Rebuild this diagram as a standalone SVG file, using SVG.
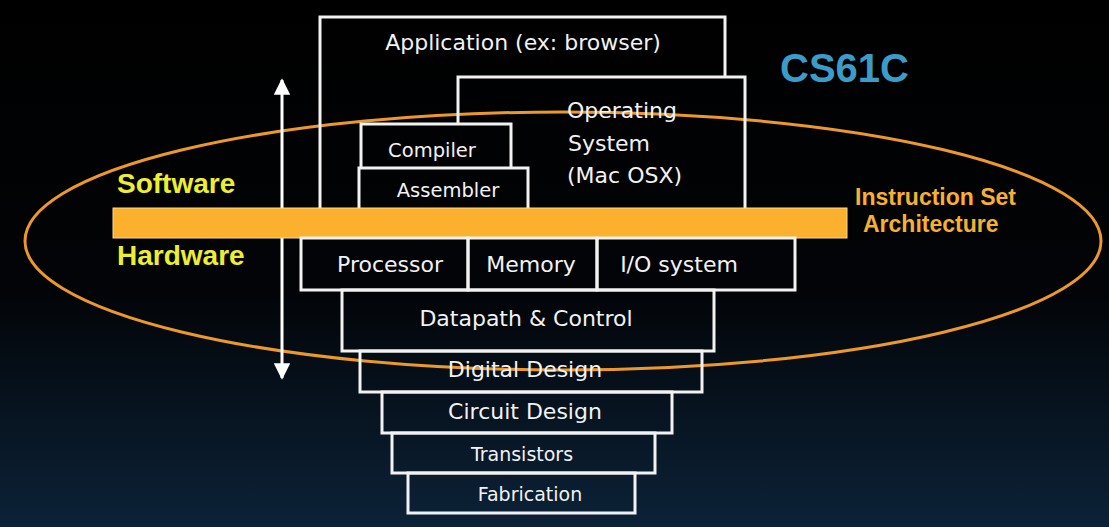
<svg xmlns="http://www.w3.org/2000/svg" width="1109" height="527" viewBox="0 0 1109 527">
  <defs>
    <linearGradient id="bg" x1="0" y1="0" x2="0" y2="1">
      <stop offset="0" stop-color="#000000"/>
      <stop offset="0.55" stop-color="#020407"/>
      <stop offset="1" stop-color="#0c2238"/>
    </linearGradient>
    <marker id="ah" viewBox="0 0 10 10" refX="9" refY="5" markerWidth="6" markerHeight="5.5" orient="auto-start-reverse" markerUnits="strokeWidth">
      <path d="M0,0 L10,5 L0,10 z" fill="#ffffff"/>
    </marker>
    <style>
      .box { fill: none; stroke: #f2f2f2; stroke-width: 3; }
      .t { font-family: "DejaVu Sans", "Liberation Sans", sans-serif; fill: #f2f2f2; font-size: 22px; }
      .mid { text-anchor: middle; }
      .sm { font-size: 19px; }
      .yl { font-family: "Liberation Sans", Arial, sans-serif; font-weight: bold; fill: #eeee30; font-size: 28px; }
      .isa { font-family: "Liberation Sans", Arial, sans-serif; font-weight: bold; fill: #f7b02f; font-size: 23px; }
    </style>
  </defs>
  <rect x="0" y="0" width="1109" height="527" fill="url(#bg)"/>

  <ellipse id="isa-ellipse" cx="563" cy="241" rx="538" ry="129" fill="none" stroke="#ec982a" stroke-width="3"/>

  <g id="connectors">
    <line x1="282" y1="80" x2="282" y2="378" stroke="#ffffff" stroke-width="3" marker-start="url(#ah)" marker-end="url(#ah)"/>
  </g>

  <g id="application">
    <path class="box" d="M320,210 V17 H725 V77"/>
    <text class="t mid" x="523" y="50">Application (ex: browser)</text>
  </g>
  <g id="os">
    <path class="box" d="M458,124 V77 H745 V210"/>
    <text class="t" x="567" y="118">Operating</text>
    <text class="t" x="568" y="151">System</text>
    <text class="t" x="567" y="183">(Mac OSX)</text>
  </g>
  <g id="compiler">
    <path class="box" d="M361,168 V124 H511 V168"/>
    <text class="t mid" x="432" y="157" style="font-size:19.5px">Compiler</text>
  </g>
  <g id="assembler">
    <path class="box" d="M359,210 V168 H528 V210"/>
    <text class="t mid" x="448" y="197" style="font-size:19.5px">Assembler</text>
  </g>

  <g id="isa-bar">
    <rect x="113" y="208" width="734" height="30" fill="#fbb02e" stroke="#ffd98a" stroke-width="1"/>
  </g>

  <g id="processor">
    <rect class="box" x="301" y="238" width="167" height="52"/>
    <text class="t mid" x="390" y="272">Processor</text>
  </g>
  <g id="memory">
    <rect class="box" x="468" y="238" width="129" height="52"/>
    <text class="t mid" x="531" y="272">Memory</text>
  </g>
  <g id="io-system">
    <rect class="box" x="597" y="238" width="198" height="52"/>
    <text class="t mid" x="679" y="272">I/O system</text>
  </g>
  <g id="datapath">
    <rect class="box" x="342" y="290" width="372" height="61"/>
    <text class="t mid" x="526" y="326">Datapath &amp; Control</text>
  </g>
  <g id="digital-design">
    <rect class="box" x="360" y="351" width="342" height="41"/>
    <text class="t mid" x="525" y="377">Digital Design</text>
  </g>
  <g id="circuit-design">
    <rect class="box" x="382" y="392" width="290" height="41"/>
    <text class="t mid" x="525" y="419">Circuit Design</text>
  </g>
  <g id="transistors">
    <rect class="box" x="392" y="433" width="263" height="40"/>
    <text class="t mid sm" x="522" y="461">Transistors</text>
  </g>
  <g id="fabrication">
    <rect class="box" x="408" y="473" width="227" height="40"/>
    <text class="t mid sm" x="530" y="501">Fabrication</text>
  </g>

  <g id="labels">
    <text class="yl" x="117" y="193">Software</text>
    <text class="yl" x="117" y="265">Hardware</text>
    <text x="780" y="82" style="font-family:'Liberation Sans',Arial,sans-serif;font-weight:bold;font-size:40px;fill:#3b9cc9">CS61C</text>
    <text class="isa" x="855" y="205">Instruction Set</text>
    <text class="isa" x="863" y="232">Architecture</text>
  </g>
</svg>
